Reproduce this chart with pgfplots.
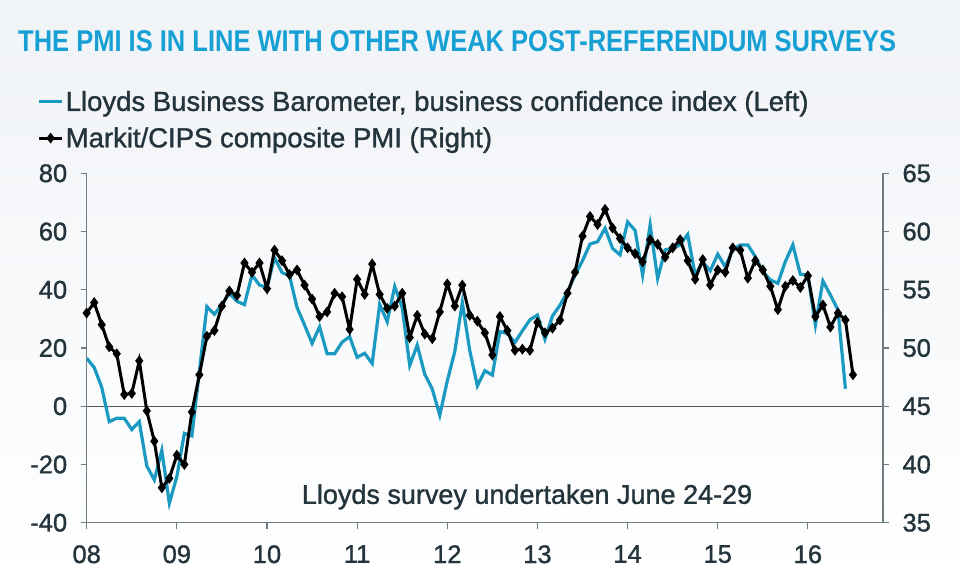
\documentclass[border=0pt]{standalone}
\usepackage{fontspec}
\setmainfont{Liberation Sans}[RawFeature={embolden=1.2}]
\newfontfamily\titlefont{Liberation Sans}[FakeStretch=0.85]
\usepackage{pgfplots}
\pgfplotsset{compat=1.18}
\usepackage{pgfplotstable}
\definecolor{bgtop}{RGB}{240,243,247}
\definecolor{titleblue}{RGB}{22,160,212}
\definecolor{lloydsblue}{RGB}{26,154,192}
\definecolor{txt}{RGB}{36,52,60}
\definecolor{axiscol}{RGB}{110,124,130}
\definecolor{zerocol}{RGB}{85,90,95}

\pgfplotstableread{
m v
0 53.0
1 53.9
2 52.0
3 50.1
4 49.5
5 46.0
6 46.1
7 48.9
8 44.6
9 42.0
10 38.0
11 38.8
12 40.8
13 40.0
14 44.5
15 47.7
16 51.0
17 51.5
18 53.6
19 54.9
20 54.5
21 57.3
22 56.5
23 57.3
24 55.1
25 58.4
26 57.5
27 56.3
28 56.7
29 55.4
30 54.2
31 52.7
32 53.1
33 54.7
34 54.4
35 51.6
36 55.9
37 54.6
38 57.2
39 54.6
40 53.4
41 53.6
42 54.7
43 50.9
44 52.8
45 51.2
46 50.8
47 53.1
48 55.5
49 53.6
50 55.4
51 52.8
52 52.3
53 51.3
54 49.4
55 52.7
56 51.5
57 49.8
58 49.9
59 49.8
60 52.2
61 51.3
62 51.7
63 52.4
64 54.7
65 56.5
66 59.6
67 61.3
68 60.6
69 61.9
70 60.3
71 59.4
72 58.6
73 58.1
74 57.4
75 59.3
76 58.9
77 57.8
78 58.6
79 59.3
80 57.5
81 55.9
82 57.6
83 55.4
84 56.7
85 56.5
86 58.6
87 58.4
88 56.0
89 57.5
90 56.7
91 55.3
92 53.3
93 55.3
94 55.8
95 55.2
96 56.2
97 52.7
98 53.7
99 51.8
100 53.0
101 52.4
102 47.7
}\pmi

\pgfplotstableread{
m v
0 16.5
1 13.3
2 6.5
3 -5.3
4 -4.1
5 -4.1
6 -8.0
7 -5.3
8 -20.5
9 -25.3
10 -15.2
11 -33.3
12 -24.2
13 -9.3
14 -10.2
15 12.0
16 34.2
17 31.6
18 35.0
19 38.8
20 36.0
21 34.9
22 45.1
23 41.6
24 40.8
25 51.0
26 45.9
27 44.8
28 33.9
29 27.9
30 21.6
31 27.3
32 18.0
33 18.0
34 22.0
35 23.9
36 16.8
37 18.2
38 14.7
39 35.0
40 29.0
41 41.1
42 33.9
43 14.0
44 21.0
45 11.0
46 5.9
47 -3.1
48 8.7
49 18.8
50 35.6
51 19.0
52 7.0
53 12.2
54 10.7
55 25.6
56 25.0
57 21.9
58 25.9
59 29.7
60 31.3
61 23.0
62 31.0
63 34.7
64 39.3
65 45.0
66 50.0
67 55.7
68 56.5
69 61.1
70 54.2
71 52.0
72 63.3
73 60.4
74 45.1
75 62.2
76 43.9
77 53.7
78 54.2
79 55.4
80 59.0
81 45.0
82 49.5
83 46.5
84 52.2
85 47.9
86 53.7
87 55.4
88 55.4
89 51.4
90 46.2
91 43.4
92 42.2
93 49.7
94 55.4
95 45.3
96 45.1
97 27.9
98 43.0
99 38.2
100 33.1
101 6.0
}\lloyds

\begin{document}
\begin{tikzpicture}[x=1pt,y=1pt]
\useasboundingbox (0,0) rectangle (960,580);
\shade[top color=bgtop, bottom color=white] (0,0) rectangle (960,580);
\node[anchor=base west, inner sep=0pt, font=\titlefont\bfseries\fontsize{30}{34}\selectfont, text=titleblue] at (18,528) {THE PMI IS IN LINE WITH OTHER WEAK POST-REFERENDUM SURVEYS};

\pgfplotsset{
  common/.style={
    at={(86.7pt,57.3pt)}, anchor=south west,
    width=796.3pt, height=349.4pt, scale only axis,
    xmin=0, xmax=106,
    axis line style={axiscol, line width=1.3pt},
    tick align=outside, major tick length=6pt,
    every tick/.style={axiscol, line width=1.1pt},
    ticklabel style={font=\fontsize{25.5}{25.5}\selectfont, text=txt},
    /pgf/number format/assume math mode=true,
  }
}

\begin{axis}[common,
  ymin=-40, ymax=80,
  axis x line*=bottom, axis y line*=left,
  ytick={-40,-20,0,20,40,60,80},
  xtick={0,12,24,36,48,60,72,84,96},
  xticklabels={08,09,10,11,12,13,14,15,16},
  yticklabel style={xshift=-10pt},
  xticklabel style={yshift=-13pt},
  extra y ticks={0},
  extra y tick labels={},
  extra y tick style={grid=major, major grid style={zerocol, line width=1.4pt}, major tick length=0pt},
]
\addplot[lloydsblue, line width=3.2pt] table[x=m, y=v] {\lloyds};
\node[font=\fontsize{27}{30}\selectfont, text=txt] at (rel axis cs:0.553,0.074) {Lloyds survey undertaken June 24-29};
\end{axis}

\begin{axis}[common,
  ymin=35, ymax=65,
  axis x line=none, axis y line*=right,
  ytick={35,40,45,50,55,60,65},
  yticklabel style={xshift=10pt},
  legend style={at={(-0.062,1.242)}, anchor=north west, draw=none, fill=none,
    font=\fontsize{27.5}{30}\selectfont, text=txt, inner sep=0pt, row sep=11pt},
  legend cell align=left,
  legend image code/.code={\draw[mark repeat=2,mark phase=2,#1] plot coordinates {(0pt,0pt)(11.5pt,0pt)(23pt,0pt)};},
]
\addlegendimage{lloydsblue, line width=3.2pt}
\addlegendentry{Lloyds Business Barometer, business confidence index (Left)}
\addplot[black, line width=3pt, mark=diamond*, mark size=3pt, mark options={solid}] table[x=m, y=v] {\pmi};
\addlegendentry{Markit/CIPS composite PMI (Right)}
\end{axis}
\end{tikzpicture}
\end{document}
